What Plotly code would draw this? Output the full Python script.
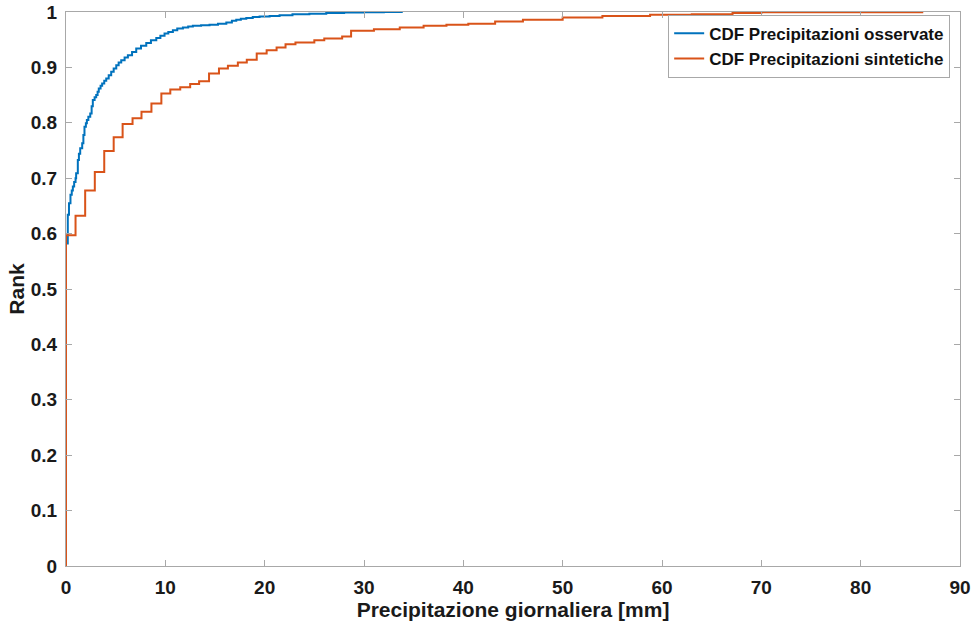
import plotly.graph_objects as go

# Observed precipitation CDF (mm, rank)
obs_x = [0, 0, 0.18, 0.30, 0.45, 0.58, 0.69, 0.82, 0.96, 1.02, 1.19, 1.30, 1.43, 1.63, 1.75, 1.86, 2.00,
         2.10, 2.25, 2.44, 2.58, 2.70, 2.88, 3.04, 3.18, 3.30, 3.48, 3.64, 3.85, 4.05, 4.30, 4.55, 4.80,
         5.06, 5.30, 5.56, 5.90, 6.23, 6.65, 7.07, 7.55, 8.08, 8.55, 9.09, 9.50, 9.92, 10.30, 10.76,
         11.20, 11.77, 12.30, 12.77, 13.60, 14.45, 15.30, 16.14, 16.70, 17.14, 17.60, 18.15, 18.80,
         19.49, 20.50, 21.50, 22.80, 24.50, 26.20, 28.00, 30.00, 32.00, 33.80]
obs_y = [0, 0.582, 0.634, 0.655, 0.670, 0.678, 0.685, 0.693, 0.700, 0.709, 0.733, 0.744, 0.754, 0.763,
         0.778, 0.793, 0.799, 0.805, 0.811, 0.817, 0.830, 0.841, 0.846, 0.850, 0.856, 0.862, 0.867,
         0.871, 0.876, 0.880, 0.886, 0.892, 0.898, 0.904, 0.909, 0.913, 0.918, 0.922, 0.928, 0.934,
         0.939, 0.944, 0.949, 0.953, 0.957, 0.961, 0.964, 0.967, 0.970, 0.972, 0.974, 0.975, 0.976,
         0.977, 0.979, 0.981, 0.984, 0.986, 0.988, 0.989, 0.991, 0.992, 0.993, 0.994, 0.996, 0.997,
         0.998, 0.999, 0.9995, 0.9998, 1.0]

# Synthetic precipitation CDF (mm, rank)
syn_x = [0, 0, 0.96, 1.93, 2.9, 3.85, 4.8, 5.7, 6.7, 7.6, 8.6, 9.6, 10.5, 11.5, 12.5, 13.4, 14.4,
         15.4, 16.3, 17.3, 18.2, 19.2, 20.2, 21.2, 22.1, 23.1, 25.0, 26.0, 27.8, 28.7, 31.0, 33.6,
         36.0, 38.3, 40.5, 43.2, 46.0, 50.0, 54.0, 58.8, 63.0, 67.1, 70.0, 86.2]
syn_y = [0, 0.597, 0.632, 0.678, 0.711, 0.749, 0.774, 0.798, 0.808, 0.820, 0.835, 0.853, 0.860, 0.864,
         0.870, 0.875, 0.889, 0.898, 0.903, 0.909, 0.914, 0.925, 0.931, 0.936, 0.942, 0.945, 0.949,
         0.952, 0.956, 0.966, 0.969, 0.972, 0.975, 0.977, 0.979, 0.983, 0.986, 0.990, 0.993, 0.995,
         0.996, 0.998, 0.9995, 1.0]

x_ticks = [0, 10, 20, 30, 40, 50, 60, 70, 80, 90]
y_ticks = [0, 0.1, 0.2, 0.3, 0.4, 0.5, 0.6, 0.7, 0.8, 0.9, 1]
y_tick_text = ["0", "0.1", "0.2", "0.3", "0.4", "0.5", "0.6", "0.7", "0.8", "0.9", "1"]

FONT = "Liberation Sans, Arial, sans-serif"

fig = go.Figure()
fig.add_trace(go.Scatter(x=obs_x, y=obs_y, mode="lines", line=dict(color="#0072BD", width=2, shape="hv"),
                         name="CDF Precipitazioni osservate"))
fig.add_trace(go.Scatter(x=syn_x, y=syn_y, mode="lines", line=dict(color="#D95319", width=2, shape="hv"),
                         name="CDF Precipitazioni sintetiche"))

axis_common = dict(showgrid=False, zeroline=False, showline=True, linecolor="#a8a8a8", linewidth=1,
                   mirror="ticks", ticks="inside", ticklen=6, tickcolor="#a8a8a8", automargin=False,
                   tickfont=dict(family=FONT, size=19, color="#1a1a1a", weight="bold"))

fig.update_layout(
    width=973, height=622,
    margin=dict(l=66, r=13, t=12, b=56),
    paper_bgcolor="white", plot_bgcolor="white",
    font=dict(family=FONT, color="#1a1a1a"),
    xaxis=dict(range=[0, 90], tickvals=x_ticks, ticklabelstandoff=4,
               title=dict(text="Precipitazione giornaliera [mm]", standoff=4,
                          font=dict(family=FONT, size=21, color="#1a1a1a", weight="bold")),
               **axis_common),
    yaxis=dict(range=[0, 1], tickvals=y_ticks, ticktext=y_tick_text, ticklabelstandoff=4,
               title=dict(text="Rank", standoff=0,
                          font=dict(family=FONT, size=21, color="#1a1a1a", weight="bold")),
               **axis_common),
    legend=dict(x=0.989, y=0.995, xanchor="right", yanchor="top", bgcolor="white",
                bordercolor="#a8a8a8", borderwidth=1, tracegroupgap=0, itemwidth=30,
                font=dict(family=FONT, size=17, color="#111111", weight="bold")),
    showlegend=True,
)

fig.write_html("out.html")
